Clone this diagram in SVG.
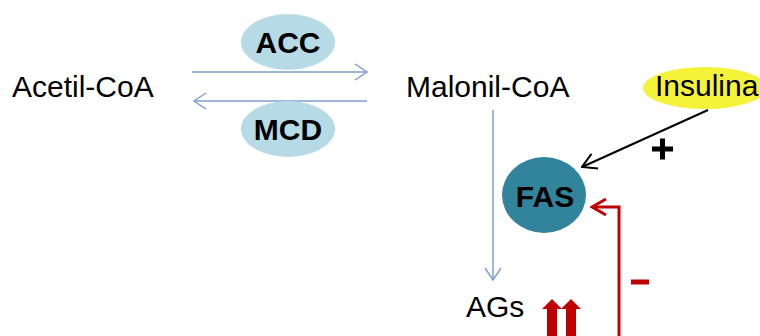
<svg xmlns="http://www.w3.org/2000/svg" width="760" height="336" viewBox="0 0 760 336">
<defs>
<marker id="chevBlue" viewBox="0 0 14 18" refX="13" refY="9" markerWidth="14" markerHeight="18" markerUnits="userSpaceOnUse" orient="auto">
<path d="M1,1 L13,9 L1,17" fill="none" stroke="#7f9fd3" stroke-width="1.5"/>
</marker>
<marker id="chevBlack" viewBox="0 0 16 18" refX="15" refY="9" markerWidth="16" markerHeight="18" markerUnits="userSpaceOnUse" orient="auto">
<path d="M1,1 L15,9 L1,17" fill="none" stroke="#000" stroke-width="2"/>
</marker>
<marker id="chevRed" viewBox="0 0 18 20" refX="16" refY="10" markerWidth="18" markerHeight="20" markerUnits="userSpaceOnUse" orient="auto">
<path d="M2,2 L16,10 L2,18" fill="none" stroke="#c00000" stroke-width="3"/>
</marker>
</defs>
<style>
.lbl{font-family:"Liberation Sans",Arial,sans-serif;font-size:30px;fill:#000}
.enz{font-family:"Liberation Sans",Arial,sans-serif;font-size:30px;font-weight:bold;fill:#000;text-anchor:middle}
.blue{stroke:#7f9fd3;stroke-width:1.5;fill:none}
</style>
<rect width="760" height="336" fill="#fff"/>
<g id="connectors">
<line class="blue" x1="192" y1="72" x2="367" y2="72" marker-end="url(#chevBlue)"/>
<line class="blue" x1="367" y1="101" x2="194" y2="101" marker-end="url(#chevBlue)"/>
<line class="blue" x1="493" y1="110" x2="493" y2="280" marker-end="url(#chevBlue)"/>
<line x1="708" y1="110" x2="582" y2="167" stroke="#000" stroke-width="2" marker-end="url(#chevBlack)"/>
<path d="M619,336 L619,207 L592,207" fill="none" stroke="#c00000" stroke-width="3" marker-end="url(#chevRed)"/>
</g>
<g id="acetil-coa"><text class="lbl" x="12" y="97">Acetil-CoA</text></g>
<g id="malonil-coa"><text class="lbl" x="406" y="97">Malonil-CoA</text></g>
<g id="ags"><text class="lbl" x="466" y="317">AGs</text></g>
<g id="acc">
<ellipse cx="288" cy="42" rx="47" ry="28" fill="#b6dbe6"/>
<text class="enz" x="288" y="53">ACC</text>
</g>
<g id="mcd">
<ellipse cx="288" cy="129" rx="47" ry="28" fill="#b6dbe6"/>
<text class="enz" x="288" y="140">MCD</text>
</g>
<g id="insulina">
<ellipse cx="705" cy="88" rx="62" ry="21" fill="#f5f23a"/>
<text class="lbl" x="655" y="96">Insulina</text>
</g>
<g id="fas">
<ellipse cx="544" cy="195" rx="42" ry="38" fill="#31849b"/>
<text class="enz" x="545" y="207">FAS</text>
</g>
<g id="plus">
<rect x="652" y="146.5" width="21" height="5" fill="#000"/>
<rect x="660" y="138.5" width="5" height="21" fill="#000"/>
</g>
<g id="minus">
<rect x="631" y="279.5" width="18" height="5" fill="#c00000"/>
</g>
<g id="up-arrows" fill="#c00000">
<path d="M547,336 L547,309 L542,309 L552,299 L562,309 L557,309 L557,336 Z"/>
<path d="M566,336 L566,309 L561,309 L571,299 L581,309 L576,309 L576,336 Z"/>
</g>
</svg>
